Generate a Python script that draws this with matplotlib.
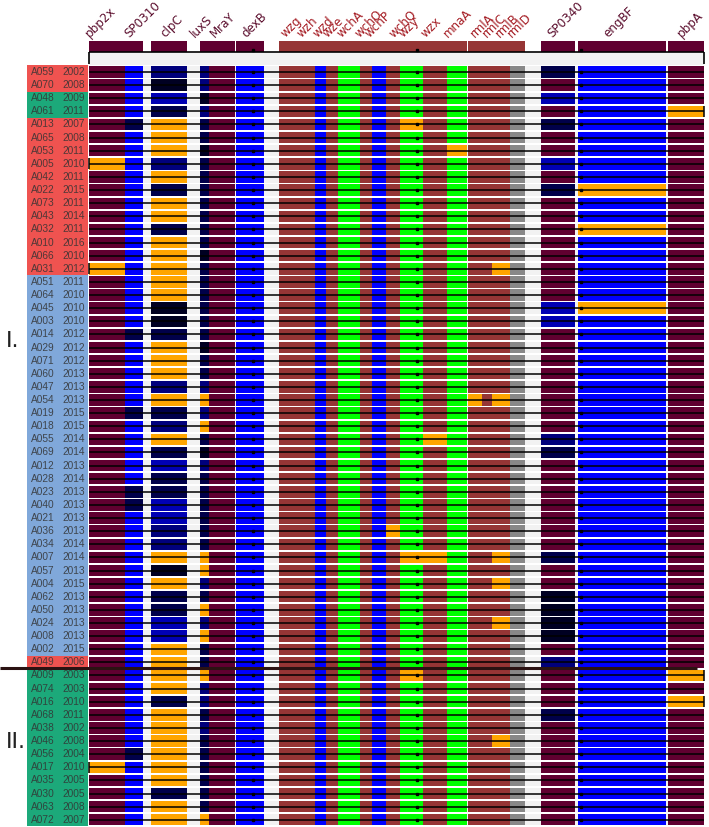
import matplotlib
matplotlib.use('Agg')
import matplotlib.pyplot as plt

""" Isolates (top to bottom) """
names = ['A059', 'A070', 'A048', 'A061', 'A013', 'A065', 'A053', 'A005', 'A042', 'A022',
         'A073', 'A043', 'A032', 'A010', 'A066', 'A031', 'A051', 'A064', 'A045', 'A003',
         'A014', 'A029', 'A071', 'A060', 'A047', 'A054', 'A019', 'A018', 'A055', 'A069',
         'A012', 'A028', 'A023', 'A040', 'A021', 'A036', 'A034', 'A007', 'A057', 'A004',
         'A062', 'A050', 'A024', 'A008', 'A002', 'A049', 'A009', 'A074', 'A016', 'A068',
         'A038', 'A046', 'A056', 'A017', 'A035', 'A030', 'A063', 'A072']
years = [2002, 2008, 2009, 2011, 2007, 2008, 2011, 2010, 2011, 2015,
         2011, 2014, 2011, 2016, 2010, 2012, 2011, 2010, 2010, 2010,
         2012, 2012, 2012, 2013, 2013, 2013, 2015, 2015, 2014, 2014,
         2013, 2014, 2013, 2013, 2013, 2013, 2014, 2014, 2013, 2015,
         2013, 2013, 2013, 2013, 2015, 2006, 2003, 2003, 2010, 2011,
         2002, 2008, 2004, 2010, 2005, 2005, 2008, 2007]
groups = "RR" "GG" "RRRRRRRRRRRR" + "B" * 29 + "R" + "G" * 12

""" Genes along the alignment """
genes = ['pbp2x', 'SP0310', 'clpC', 'luxS', 'MraY', 'dexB', 'wzg', 'wzh', 'wzd', 'wze',
         'wchA', 'wchO', 'wchP', 'wchQ', 'wzy', 'wzx', 'rmlA', 'rmlC', 'rmlB', 'rmlD',
         'SP0340', 'engBF', 'pbpA']
gene_start = [89, 125, 151, 200, 209, 236, 279, 315, 326, 338,
              360, 372, 386, 400, 423, 447, 468, 482, 492, 510,
              541, 578, 668]
gene_end = [125, 143, 187, 209, 235, 264, 315, 326, 338, 360,
            372, 386, 400, 423, 447, 467, 482, 492, 510, 525,
            575, 666, 704]
gene_default = ['m', 'b', 'm', '2', 'm', 'b', 'r', 'b', 'r', 'g',
                'r', 'b', 'r', 'g', 'r', 'g', 'r', 'r', 'r', 'y',
                'm', 'b', 'm']
capsule = ['wzg', 'wzh', 'wzd', 'wze', 'wchA', 'wchO', 'wchP', 'wchQ', 'wzy', 'wzx',
           'mnaA', 'rmlA', 'rmlC', 'rmlB', 'rmlD']

header_labels = ['pbp2x', 'SP0310', 'clpC', 'luxS', 'MraY', 'dexB', 'wzg', 'wzh', 'wzd', 'wze',
                 'wchA', 'wchO', 'wchP', 'wchQ', 'wzy', 'wzx', 'mnaA', 'rmlA', 'rmlC', 'rmlB',
                 'rmlD', 'SP0340', 'engBF', 'pbpA']
header_x = [90, 129, 165, 195, 215, 246, 285, 302, 317, 327,
            342, 360, 370, 393, 403, 425, 448, 475, 487, 500,
            512, 552, 608, 682]

""" Allele per isolate (one char per row) """
pbp2x = "mmmmmmmomm" "mmmmmommmm" "mmmmmmmmmm" "mmmmmmmmmm" "mmmmmmmmmm" "mmmommmm"
sp0310 = "bbbb2bbbbb" "bbbbbbbbbb" "2bbbbb2bbb" "bb22bbbbbb" "bbbbbbbbbb" "bb2bbbbb"
clpC = "3142ooo3o2" "oo2ooooo11" "2ooo3o23o2" "4224433o1o" "2244oooo2o" "ooooo2oo"
luxS = "3313221222" "2222122222" "21223o3o21" "3222222oo3" "2o3o22o332" "3222222o"
sp0340 = "2m4m2mm4m2" "mmmmmmmm44" "mmmmmmmm32" "mmmmmmm2mm" "1111m3mmm2" "mmmmmmmm"
engBF = "bbbbbbbbbo" "bbobbbbbob" "bbbbbbbbbb" "bbbbbbbbbb" "bbbbbbbbbb" "bbbbbbbb"
pbpA = "mmmommmmmm" "mmmmmmmmmm" "mmmmmmmmmm" "mmmmmmmmmm" "mmmmmmomom" "mmmmmmmm"
alleles = {'pbp2x': pbp2x, 'SP0310': sp0310, 'clpC': clpC, 'luxS': luxS,
           'SP0340': sp0340, 'engBF': engBF, 'pbpA': pbpA}

# capsule genes that differ (orange) in a few isolates
orange_wchP = ['A036']
orange_wchQ = ['A013', 'A007', 'A009']
orange_wzy = ['A055', 'A007']
orange_wzx = ['A053']
orange_rmlA = ['A054']
orange_rmlB = ['A031', 'A054', 'A007', 'A004', 'A024', 'A046']
orange = {'wchP': orange_wchP, 'wchQ': orange_wchQ, 'wzy': orange_wzy,
          'wzx': orange_wzx, 'rmlA': orange_rmlA, 'rmlB': orange_rmlB}

clades = ['I.', 'II.']
clade_row = [20.5, 51.1]

palette = {'m': '#600030', 'b': '#0000ff', 'o': '#ffa500', '1': '#000022', '2': '#00004a',
           '3': '#00007c', '4': '#0000b4', 'r': '#963535', 'g': '#00ff00', 'y': '#888888'}
group_col = {'R': '#ef5350', 'G': '#1ca97a', 'B': '#80a8da'}

n = len(names)
rows = list(range(n))

fig = plt.figure(figsize=(7.09, 8.27), dpi=100)
ax = fig.add_axes([0, 0, 1, 1])
ax.set_xlim(0, 709)
ax.set_ylim(57.55, -5.49)      # one unit = one isolate row
ax.axis('off')

# light background of every row
ax.barh(rows, 615, left=89, height=0.87, color='#f2f2f2')

# gene blocks
for j, g in enumerate(genes):
    cols = []
    for i in rows:
        c = alleles[g][i] if g in alleles else gene_default[j]
        if g in orange and names[i] in orange[g]:
            c = 'o'
        cols.append(palette[c])
    ax.barh(rows, gene_end[j] - gene_start[j], left=gene_start[j], height=0.87, color=cols)

# black line through each row + small marks
ax.hlines(rows, 89, 704, color='black', lw=1.1)
for xm in [253, 417, 581]:
    ax.plot([xm] * n, rows, 's', ms=1.5, color='black')
for i in rows:
    if pbp2x[i] == 'o':
        ax.vlines(89, i - 0.42, i + 0.42, color='black', lw=1.1)
    if pbpA[i] == 'o':
        ax.vlines(704, i - 0.42, i + 0.42, color='black', lw=1.1)

# header bar
hcol = [palette['r'] if g in capsule else palette['m'] for g in genes]
ax.barh([-1.94] * len(genes), [e - s for s, e in zip(gene_start, gene_end)],
        left=gene_start, height=0.84, color=hcol)
ax.plot([253, 417, 581], [-1.65] * 3, 's', ms=1.5, color='black')
ax.barh(-1.0, 615, left=89, height=0.9, color='#f2f2f2')
ax.hlines(-1.5, 89, 704, color='black', lw=1.2)
ax.vlines([89, 704], -1.5, -0.6, color='black', lw=1.2)

for lab, xl in zip(header_labels, header_x):
    ax.text(xl, -2.62, lab, rotation=45, rotation_mode='anchor', ha='left', va='baseline',
            fontsize=8.6, color='#a51d24' if lab in capsule else '#5c0f2e')

# isolate labels
ax.barh(rows, 61, left=27, height=1.0, color=[group_col[k] for k in groups])
for i in rows:
    ax.text(31, i, names[i], fontsize=7.3, family='Liberation Sans', color='#333333',
            va='center', ha='left', alpha=0.85)
    ax.text(62, i, str(years[i]), fontsize=7.3, family='Liberation Sans', color='#333333',
            va='center', ha='left', alpha=0.85)

# clade split
ax.hlines(45.45, 0, 697, color='#2b1212', lw=2.2)
for lab, r in zip(clades, clade_row):
    ax.text(6, r, lab, fontsize=16, va='center', ha='left', color='#222222')

fig.savefig('out.png', dpi=100)
